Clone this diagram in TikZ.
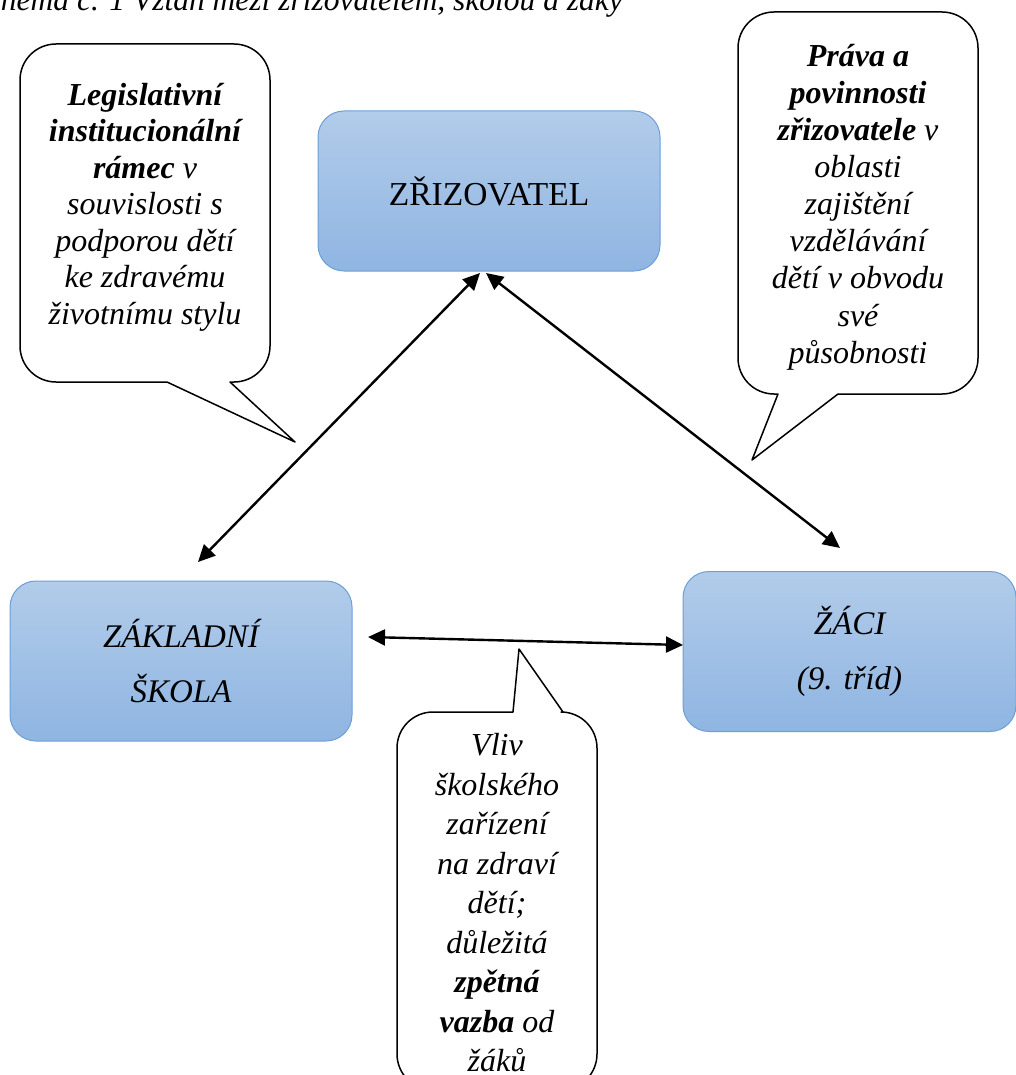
\documentclass[tikz,border=0pt]{standalone}
\usepackage{fontspec}
\setmainfont{Liberation Serif}
\usetikzlibrary{arrows.meta,calc}
\definecolor{boxtop}{RGB}{178,204,234}
\definecolor{boxbot}{RGB}{143,181,226}
\definecolor{boxline}{RGB}{110,158,214}
\tikzset{
  bluebox/.style={draw=boxline, line width=1pt, rounded corners=26pt, top color=boxtop, bottom color=boxbot, minimum width=342pt, minimum height=160pt, inner sep=0pt},
  callout/.style={draw=black, line width=1.5pt, fill=white, line join=round},
  calltext/.style={align=center, inner sep=0pt, font=\fontsize{32}{36.5}\selectfont\itshape},
  link/.style={line width=2.4pt, {Triangle[length=17pt,width=16pt]}-{Triangle[length=17pt,width=16pt]}}
}
\begin{document}
\begin{tikzpicture}[x=1pt,y=-1pt]
\useasboundingbox (0,0) rectangle (1016,1075);
\clip (0,0) rectangle (1016,1075);
% title (cut off at top)
\node[anchor=base west, inner sep=0pt, font=\fontsize{31.5}{36}\selectfont\itshape] (title) at (-29,11) {Schéma č. 1 Vztah mezi zřizovatelem, školou a žáky};
% blue boxes
\node[bluebox, font=\fontsize{33.5}{36}\selectfont] (z) at (489,191) {ZŘIZOVATEL};
\node[bluebox, align=center, font=\fontsize{33}{55}\selectfont\itshape] (zs) at (181,661) {ZÁKLADNÍ\\ŠKOLA};
\node[bluebox, minimum width=333pt, align=center, font=\fontsize{33}{55}\selectfont\itshape] (zaci) at (849.5,651.5) {ŽÁCI\\(9. tříd)};
% connector end points
\coordinate (z1) at (480,273);
\coordinate (z2) at (486,273);
\coordinate (s1) at (198,562);
\coordinate (s2) at (368,637);
\coordinate (k1) at (840,548);
\coordinate (k2) at (683,645);
\draw[link] (z1) -- (s1);
\draw[link] (z2) -- (k1);
\draw[link] (s2) -- (k2);
% callout left
\draw[callout] (167,382) [rounded corners=36pt] -- (20,382) -- (20,44) -- (270,44) -- (270,382) [sharp corners] -- (230,382) -- (295,442) -- cycle;
\node[calltext] (c1) at (145,207) {\textbf{Legislativní}\\\textbf{institucionální}\\\textbf{rámec} v\\souvislosti s\\podporou dětí\\ke zdravému\\životnímu stylu};
% callout right
\draw[callout] (778,394) [rounded corners=36pt] -- (738,394) -- (738,12) -- (978,12) -- (978,394) [sharp corners] -- (838,394) -- (752,460) -- cycle;
\node[calltext, font=\fontsize{32}{37.1}\selectfont\itshape] (c2) at (858,207) {\textbf{Práva a}\\\textbf{povinnosti}\\\textbf{zřizovatele} v\\oblasti\\zajištění\\vzdělávání\\dětí v obvodu\\své\\působnosti};
% callout bottom
\draw[callout] (563,712) [rounded corners=36pt] -- (597,712) -- (597,1090) -- (397,1090) -- (397,712) [sharp corners] -- (513,712) -- (519,649) -- cycle;
\node[calltext, font=\fontsize{32}{39.5}\selectfont\itshape] (c3) at (497,903) {Vliv\\školského\\zařízení\\na zdraví\\dětí;\\důležitá\\\textbf{zpětná}\\\textbf{vazba} od\\žáků};
\end{tikzpicture}
\end{document}
